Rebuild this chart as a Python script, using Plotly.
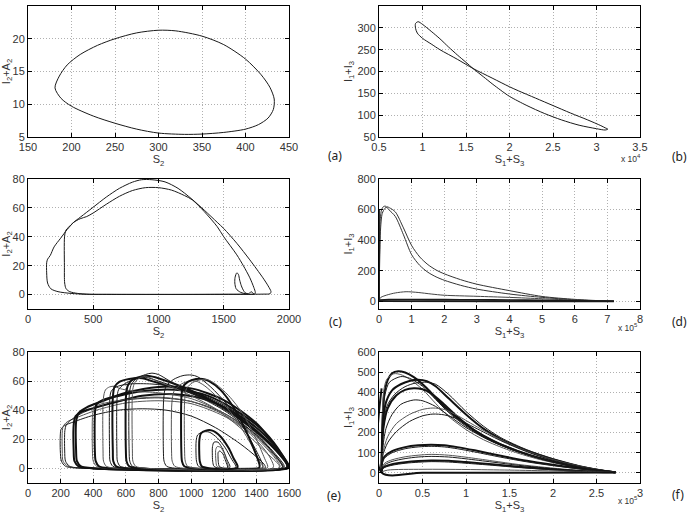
import plotly.graph_objects as go

# ---------------- data ----------------
# (a) S2 vs I2+A2, single limit cycle
a_x = [181, 186, 195, 210, 230, 250, 275, 300, 320, 350, 375, 400, 418, 428, 433, 432, 426, 415, 400, 375,
       350, 330, 300, 275, 250, 225, 200, 188, 181]
a_y = [12.5, 14.3, 16.0, 17.6, 19.0, 20.0, 20.9, 21.3, 21.2, 20.4, 19.1, 16.9, 14.5, 12.6, 10.8, 9.2, 7.9, 6.9,
       6.2, 5.7, 5.45, 5.4, 5.6, 6.2, 7.1, 8.2, 9.7, 10.9, 12.5]

# (b) S1+S3 (x 1e4) vs I1+I3
b_x = [0.92, 0.95, 1.0, 1.1, 1.2, 1.3, 1.4, 1.5, 1.58, 1.7, 1.8, 1.9, 2.0, 2.2, 2.4, 2.6, 2.8, 3.0, 3.1, 3.13,
       3.1, 3.05, 2.9, 2.7, 2.5, 2.3, 2.1, 2.0, 1.8, 1.58, 1.4, 1.2, 1.1, 1.0, 0.94, 0.92, 0.92]
b_y = [310, 314, 308, 292, 275, 256, 238, 221, 207, 188, 172, 157, 143, 122, 104, 89, 77, 69, 66, 68,
       71, 76, 89, 105, 122, 139, 156, 165, 185, 207, 228, 250, 263, 276, 288, 299, 310]

# (c) S2 vs I2+A2, period-2 type orbit
c_outer_x = [450, 330, 230, 175, 150, 143, 143, 150, 170, 200, 250, 300, 350, 400, 450, 500, 600, 700, 800, 870,
             950, 1050, 1150, 1250, 1350, 1450, 1500, 1600, 1700, 1800, 1840, 1862, 1855, 1800, 1500, 1200, 900,
             600, 450]
c_outer_y = [0.2, 0.8, 2.0, 4.0, 8, 15, 22, 24.5, 27, 33, 39, 45, 50, 53.5, 57, 60.5, 67.5, 73.5, 77.8, 79.5,
             79.5, 78, 73.5, 66.5, 58.5, 50, 45.7, 35.5, 24, 11.6, 6, 2, 0.6, 0.3, 0.2, 0.1, 0.1, 0.2, 0.2]
c_inner_x = [470, 380, 320, 292, 281, 279, 280, 290, 310, 350, 400, 450, 500, 600, 700, 800, 900, 1000, 1100,
             1200, 1260, 1350, 1450, 1500, 1600, 1650, 1700, 1730, 1742, 1738, 1650, 1400, 1000, 470]
c_inner_y = [0.2, 0.8, 2.0, 4.0, 8, 20, 40, 44.5, 46.5, 50, 52.5, 54, 56.5, 62.5, 68, 72, 74, 74, 72.3,
             68.5, 65.5, 57.5, 47, 40, 27.5, 20, 11.6, 5, 1.5, 0.4, 0.2, 0.1, 0.1, 0.2]
c_drop_x = [1680, 1630, 1595, 1585, 1587, 1600, 1612, 1622, 1635, 1650, 1665, 1690, 1710, 1730]
c_drop_y = [0.3, 1.5, 4, 8, 12, 15, 14, 10, 6, 3, 1.2, 0.5, 2, 0.4]

# (d) S1+S3 (x 1e5) vs I1+I3
d_big1_x = [0.0, 0.02, 0.05, 0.1, 0.18, 0.25, 0.32, 0.5, 0.75, 1.0, 1.25, 1.5, 1.75, 2.0, 2.5, 3.0, 4.0, 5.0, 6.0, 6.8, 7.2]
d_big1_y = [5, 250, 480, 575, 608, 618, 612, 585, 480, 365, 290, 240, 205, 180, 142, 112, 70, 32, 13, 4, 1]
d_big2_x = [0.0, 0.02, 0.04, 0.08, 0.14, 0.2, 0.3, 0.5, 0.75, 1.0, 1.25, 1.5, 1.75, 2.0, 2.5, 3.0, 4.0, 5.0, 6.0, 6.8, 7.2]
d_big2_y = [5, 350, 540, 600, 620, 622, 600, 555, 435, 305, 235, 190, 160, 138, 105, 80, 48, 26, 10, 3, 1]
d_hump_x = [0.0, 0.05, 0.15, 0.3, 0.5, 0.83, 1.2, 1.6, 2.0, 3.0, 4.0, 5.0, 6.0, 6.8, 7.2]
d_hump_y = [5, 25, 35, 45, 55, 63, 58, 48, 40, 33, 26, 17, 8, 3, 1]
d_flat_x = [0.0, 0.3, 1.0, 2.0, 3.0, 4.0, 5.0, 6.0, 7.2]
d_flat_y = [8, 11, 12, 11, 10, 9, 7, 4, 1]
d_base_x = [7.2, 4.0, 1.0, 0.0, 0.0]
d_base_y = [0.5, 0.5, 0.5, 1, 600]

# (e) S2 vs I2+A2, chaotic attractor: individual loops
e_loops = [
    ([320, 230, 205, 198, 198, 203, 225, 280, 400, 550, 700, 850, 1000, 1150, 1300, 1400, 1450, 1455, 1400, 320],
     [0.2, 1.5, 5, 12, 23, 27, 29.5, 32, 36.5, 40, 41, 40, 36, 28, 17, 8, 2.5, 0.5, 0.2, 0.2]),
    ([330, 245, 215, 210, 210, 216, 240, 300, 420, 600, 800, 1000, 1200, 1350, 1470, 1505, 1500, 330],
     [0.2, 1.5, 5, 12, 25, 29, 32, 35, 40, 45, 46.5, 44.5, 36, 25, 10, 2, 0.3, 0.2]),
    ([340, 255, 230, 225, 226, 235, 260, 330, 450, 600, 800, 1000, 1200, 1400, 1530, 1565, 1560, 340],
     [0.2, 1.5, 5, 12, 26, 30, 33, 38, 43, 47, 48.5, 46, 38, 23, 7, 1.5, 0.3, 0.2]),
    ([390, 310, 285, 280, 281, 292, 330, 420, 550, 700, 900, 1100, 1300, 1450, 1560, 1590, 1585, 390],
     [0.2, 1.5, 5, 12, 31, 36, 39, 42, 46, 50, 51, 47, 36, 23, 8, 2, 0.3, 0.2]),
    ([400, 325, 300, 295, 296, 310, 360, 450, 600, 800, 1000, 1200, 1400, 1540, 1595, 1600, 400],
     [0.2, 1.5, 5, 12, 33, 38, 42, 46, 52, 56, 55, 47, 31, 12, 3, 0.5, 0.2]),
    ([480, 420, 400, 395, 396, 405, 440, 520, 650, 800, 1000, 1200, 1380, 1500, 1545, 1540, 480],
     [0.2, 1.5, 5, 12, 37, 42, 44, 46, 48, 49, 46, 37, 23, 9, 2, 0.3, 0.2]),
    ([500, 435, 415, 410, 411, 420, 460, 560, 700, 900, 1100, 1300, 1450, 1560, 1592, 1588, 500],
     [0.2, 1.5, 5, 12, 39, 44, 47, 50, 53, 54, 50, 38, 25, 9, 2, 0.3, 0.2]),
    ([540, 480, 463, 460, 462, 475, 500, 530, 560, 650, 800, 1000, 1200, 1400, 1530, 1560, 1556, 540],
     [0.2, 1.5, 5, 12, 48, 54, 56, 56.5, 55, 53, 52, 48, 38, 22, 6, 1.5, 0.3, 0.2]),
    ([580, 520, 503, 500, 501, 510, 540, 620, 760, 900, 1100, 1300, 1460, 1570, 1598, 1595, 580],
     [0.2, 1.5, 5, 12, 47, 53, 56, 58, 58, 56, 49, 37, 22, 7, 1.5, 0.3, 0.2]),
    ([600, 540, 523, 520, 521, 530, 560, 620, 700, 760, 850, 1000, 1200, 1400, 1540, 1590, 1586, 600],
     [0.2, 1.5, 5, 12, 50, 56, 59.5, 61.5, 62, 60, 57, 52, 42, 26, 10, 2, 0.3, 0.2]),
    ([620, 565, 548, 545, 546, 555, 590, 650, 720, 800, 950, 1150, 1350, 1500, 1570, 1567, 620],
     [0.2, 1.5, 5, 12, 48, 54, 58, 61, 62.5, 60, 54, 44, 29, 12, 2, 0.3, 0.2]),
    ([680, 620, 604, 600, 601, 612, 640, 690, 740, 800, 900, 1050, 1250, 1450, 1570, 1597, 1593, 680],
     [0.2, 1.5, 5, 12, 50, 57, 61, 63, 63.5, 62, 58, 51, 38, 20, 6, 1.5, 0.3, 0.2]),
    ([700, 640, 624, 620, 622, 635, 670, 720, 760, 800, 870, 1000, 1200, 1400, 1530, 1560, 1556, 700],
     [0.2, 1.5, 5, 12, 52, 58, 62, 64.5, 65.5, 64.5, 60, 52, 40, 23, 7, 1.5, 0.3, 0.2]),
    ([720, 660, 643, 640, 642, 655, 690, 730, 790, 880, 1000, 1150, 1300, 1450, 1540, 1537, 720],
     [0.2, 1.5, 5, 12, 54, 59, 62.5, 63, 60, 56, 50, 41, 28, 12, 2, 0.3, 0.2]),
    ([900, 850, 834, 830, 832, 845, 890, 950, 1000, 1040, 1120, 1220, 1320, 1400, 1440, 1436, 900],
     [0.2, 1.5, 5, 12, 48, 56, 61, 63.8, 64.2, 63, 56, 44, 28, 12, 2, 0.3, 0.2]),
    ([950, 900, 884, 880, 882, 895, 940, 990, 1030, 1080, 1160, 1260, 1360, 1420, 1440, 950],
     [0.2, 1.5, 5, 12, 45, 53, 58, 60, 60, 57, 49, 36, 18, 5, 0.5, 0.2]),
    ([1010, 958, 944, 940, 941, 950, 980, 1030, 1070, 1110, 1180, 1260, 1340, 1400, 1420, 1416, 1010],
     [0.2, 1.5, 5, 12, 50, 56, 59.5, 61.5, 61.5, 60, 54, 42, 25, 9, 2, 0.3, 0.2]),
    ([1030, 978, 964, 960, 961, 972, 1010, 1060, 1100, 1150, 1230, 1320, 1400, 1450, 1470, 1466, 1030],
     [0.2, 1.5, 5, 12, 48, 55, 59, 61, 61, 58, 50, 37, 20, 7, 1.5, 0.3, 0.2]),
    ([1090, 1045, 1033, 1030, 1031, 1040, 1070, 1110, 1160, 1210, 1250, 1275, 1272, 1090],
     [0.2, 1.5, 5, 10, 19, 23, 25, 25, 21, 14, 6, 1.5, 0.3, 0.2]),
    ([1110, 1065, 1053, 1050, 1051, 1060, 1090, 1130, 1180, 1230, 1260, 1285, 1282, 1110],
     [0.2, 1.5, 5, 10, 20, 24, 26, 26, 22, 14, 7, 1.5, 0.3, 0.2]),
    ([1170, 1140, 1132, 1130, 1131, 1140, 1165, 1195, 1220, 1238, 1235, 1170],
     [0.2, 1.5, 5, 10, 15, 18, 18, 13, 6, 1.5, 0.3, 0.2]),
    ([1185, 1158, 1152, 1150, 1151, 1160, 1180, 1205, 1222, 1228, 1225, 1185],
     [0.2, 1.5, 5, 9, 13, 15, 14.5, 10, 4, 1, 0.3, 0.2]),
    ([1195, 1172, 1167, 1165, 1166, 1175, 1195, 1212, 1224, 1222, 1195],
     [0.2, 1.5, 4, 8, 11, 12, 10, 5, 1, 0.3, 0.2]),
]
e_thick = [3, 4, 6, 9, 11, 16, 19]

# (f) S1+S3 (x 1e5) vs I1+I3, chaotic attractor: individual arcs
f_arcs = [
    ([0.03, 0.033, 0.04, 0.06, 0.1, 0.15, 0.22, 0.3, 0.4, 0.55, 0.7, 0.85, 1.0, 1.2, 1.4, 1.6, 1.8, 2.0, 2.2, 2.4, 2.6, 2.72],
     [5, 120, 260, 390, 460, 495, 505, 498, 475, 420, 350, 290, 240, 185, 142, 107, 78, 55, 36, 20, 8, 3]),
    ([0.03, 0.033, 0.04, 0.055, 0.09, 0.17, 0.25, 0.35, 0.5, 0.65, 0.8, 1.0, 1.2, 1.5, 1.8, 2.1, 2.4, 2.72],
     [5, 150, 300, 410, 465, 492, 488, 465, 415, 345, 280, 215, 165, 112, 72, 42, 18, 3]),
    ([0.03, 0.034, 0.045, 0.07, 0.12, 0.25, 0.35, 0.5, 0.65, 0.8, 1.0, 1.2, 1.5, 1.8, 2.1, 2.4, 2.72],
     [5, 130, 280, 390, 450, 478, 470, 430, 365, 300, 232, 178, 120, 78, 45, 19, 3]),
    ([0.03, 0.035, 0.05, 0.08, 0.15, 0.25, 0.35, 0.45, 0.55, 0.65, 0.8, 1.0, 1.2, 1.4, 1.6, 1.8, 2.0, 2.2, 2.4, 2.6, 2.72],
     [5, 140, 270, 350, 410, 440, 456, 462, 455, 430, 370, 290, 220, 168, 128, 95, 68, 45, 25, 10, 3]),
    ([0.03, 0.035, 0.05, 0.09, 0.18, 0.3, 0.42, 0.55, 0.65, 0.8, 1.0, 1.2, 1.4, 1.7, 2.0, 2.3, 2.72],
     [5, 120, 240, 330, 390, 428, 446, 450, 440, 390, 305, 232, 175, 115, 70, 35, 3]),
    ([0.03, 0.035, 0.05, 0.1, 0.2, 0.3, 0.4, 0.5, 0.6, 0.75, 0.9, 1.1, 1.3, 1.6, 1.9, 2.2, 2.5, 2.72],
     [5, 110, 220, 320, 385, 412, 420, 415, 395, 340, 280, 210, 160, 108, 68, 38, 15, 3]),
    ([0.03, 0.04, 0.08, 0.15, 0.25, 0.4, 0.5, 0.65, 0.8, 1.0, 1.3, 1.6, 2.0, 2.4, 2.72],
     [5, 110, 220, 290, 340, 362, 358, 330, 285, 225, 155, 105, 55, 20, 3]),
    ([0.03, 0.04, 0.1, 0.2, 0.35, 0.5, 0.62, 0.75, 0.9, 1.1, 1.4, 1.7, 2.0, 2.4, 2.72],
     [5, 90, 180, 245, 290, 315, 322, 315, 285, 235, 165, 108, 65, 25, 3]),
    ([0.03, 0.04, 0.1, 0.2, 0.35, 0.5, 0.62, 0.75, 0.9, 1.1, 1.4, 1.7, 2.0, 2.4, 2.72],
     [5, 80, 150, 205, 255, 283, 292, 288, 268, 225, 160, 105, 62, 24, 3]),
    ([0.03, 0.035, 0.06, 0.15, 0.3, 0.45, 0.6, 0.75, 0.9, 1.1, 1.4, 1.7, 2.0, 2.3, 2.6, 2.72],
     [5, 50, 80, 108, 128, 137, 140, 137, 128, 112, 85, 60, 40, 22, 8, 3]),
    ([0.03, 0.035, 0.06, 0.15, 0.3, 0.45, 0.6, 0.75, 0.9, 1.1, 1.4, 1.7, 2.0, 2.3, 2.6, 2.72],
     [5, 45, 72, 100, 120, 129, 132, 129, 120, 104, 78, 55, 36, 20, 7, 3]),
    ([0.03, 0.035, 0.07, 0.15, 0.3, 0.45, 0.6, 0.8, 1.0, 1.3, 1.6, 1.9, 2.2, 2.5, 2.72],
     [5, 30, 50, 65, 80, 88, 92, 88, 78, 60, 42, 28, 16, 7, 3]),
    ([0.03, 0.035, 0.07, 0.15, 0.3, 0.45, 0.6, 0.8, 1.0, 1.3, 1.6, 1.9, 2.2, 2.5, 2.72],
     [5, 25, 42, 57, 71, 79, 82, 79, 70, 54, 38, 25, 14, 6, 3]),
    ([0.03, 0.035, 0.07, 0.15, 0.3, 0.45, 0.6, 0.8, 1.0, 1.3, 1.6, 1.9, 2.2, 2.5, 2.72],
     [5, 20, 32, 43, 53, 59, 62, 60, 54, 43, 31, 21, 12, 5, 3]),
    ([0.03, 0.035, 0.07, 0.15, 0.3, 0.45, 0.6, 0.8, 1.0, 1.3, 1.6, 1.9, 2.2, 2.5, 2.72],
     [5, 17, 28, 38, 48, 53, 56, 54, 48, 38, 27, 18, 10, 5, 3]),
    ([0.03, 0.1, 0.5, 1.0, 1.5, 2.0, 2.5, 2.72],
     [5, 14, 18, 17, 14, 10, 6, 3]),
    ([2.72, 1.5, 0.5, 0.03, 0.03],
     [2, 1, 1, 2, 420]),
]
f_thick = [0, 3, 5, 9, 13, 16]

LINE = "#1a1a1a"
GRAY = "#555555"

LEFT = [28 / 689, 289 / 689]
RIGHT = [379 / 689, 640 / 689]
ROW1 = [1 - 137 / 514, 1 - 6 / 514]
ROW2 = [1 - 309 / 514, 1 - 179 / 514]
ROW3 = [1 - 483 / 514, 1 - 352 / 514]
S2 = "S<sub>2</sub>"
S13 = "S<sub>1</sub>+S<sub>3</sub>"
IA2 = "I<sub>2</sub>+A<sub>2</sub>"
I13 = "I<sub>1</sub>+I<sub>3</sub>"
# panel: (axis suffix, x domain, y domain, x range, y range, x dtick, y dtick, x title, y title)
panels = [
    ("", LEFT, ROW1, [150, 450], [5, 25], 50, 5, S2, IA2),
    ("2", RIGHT, ROW1, [0.5, 3.5], [50, 350], 0.5, 50, S13, I13),
    ("3", LEFT, ROW2, [0, 2000], [-10, 80], 500, 20, S2, IA2),
    ("4", RIGHT, ROW2, [0, 8], [-50, 800], 1, 200, S13, I13),
    ("5", LEFT, ROW3, [0, 1600], [-10, 80], 200, 20, S2, IA2),
    ("6", RIGHT, ROW3, [0, 3], [-50, 600], 0.5, 100, S13, I13),
]

fig = go.Figure()


def add_line(xs, ys, ax, width=1.0, color=LINE, spline=True):
    fig.add_trace(go.Scatter(
        x=xs, y=ys, mode="lines", xaxis="x" + ax, yaxis="y" + ax,
        line=dict(color=color, width=width, shape="spline" if spline else "linear", smoothing=0.8),
        hoverinfo="skip", showlegend=False,
    ))


# --- (a) ---
add_line(a_x, a_y, "")
# --- (b) ---
add_line(b_x, b_y, "2")
# --- (c) ---
add_line(c_outer_x, c_outer_y, "3")
add_line(c_inner_x, c_inner_y, "3")
add_line(c_drop_x, c_drop_y, "3")
# --- (d) ---
add_line(d_big1_x, d_big1_y, "4", color="#333")
add_line(d_big2_x, d_big2_y, "4", color="#333")
add_line(d_hump_x, d_hump_y, "4", color="#444")
add_line(d_flat_x, d_flat_y, "4", width=1.6)
add_line(d_base_x, d_base_y, "4", width=1.8, spline=False)
# --- (e) ---
for i, (xs, ys) in enumerate(e_loops):
    if i in e_thick:
        add_line(xs, ys, "5", width=2.0, color="#111")
    else:
        add_line(xs, ys, "5", width=1.0, color=GRAY if i % 2 else LINE)
# --- (f) ---
for i, (xs, ys) in enumerate(f_arcs):
    if i in f_thick:
        add_line(xs, ys, "6", width=2.0, color="#111")
    else:
        add_line(xs, ys, "6", width=1.0, color=GRAY if i % 2 else LINE)

tick_font = dict(family="Liberation Sans, Arial, sans-serif", size=11, color="#333")
title_font = dict(family="Liberation Sans, Arial", size=11, color="#333")
layout = {}
for suffix, xd, yd, xr, yr, dx, dy, xt, yt in panels:
    common = dict(
        showline=True, linecolor="black", linewidth=1, mirror="allticks",
        ticks="inside", ticklen=4, tickcolor="black", tickfont=tick_font,
        showgrid=True, gridcolor="#b0b0b0", griddash="1px,2px", gridwidth=1, zeroline=False,
    )
    layout["xaxis" + suffix] = dict(domain=xd, range=xr, dtick=dx, tick0=0, anchor="y" + suffix,
                                    title=dict(text=xt, font=title_font, standoff=0), **common)
    layout["yaxis" + suffix] = dict(domain=yd, range=yr, dtick=dy, tick0=0, anchor="x" + suffix,
                                    title=dict(text=yt, font=title_font, standoff=2), **common)

annotations = []
for txt, px, py in [("(a)", 335, 155), ("(b)", 679, 156), ("(c)", 335, 321),
                    ("(d)", 679, 321), ("(e)", 334, 495), ("(f)", 678, 494)]:
    annotations.append(dict(text=txt, x=px / 689, y=1 - py / 514, xref="paper", yref="paper",
                            showarrow=False, xanchor="center", yanchor="middle",
                            font=dict(family="Noto Sans, Open Sans, sans-serif", size=12, color="#222")))
# axis multipliers sit below the right end of the x axes
for txt, px, py in [("x 10<sup>4</sup>", 631, 158), ("x 10<sup>5</sup>", 628, 327), ("x 10<sup>5</sup>", 628, 500)]:
    annotations.append(dict(text=txt, x=px / 689, y=1 - py / 514, xref="paper", yref="paper",
                            showarrow=False, xanchor="center", yanchor="middle",
                            font=dict(family="Liberation Sans, Arial", size=8.5, color="#333")))

fig.update_layout(
    **layout,
    annotations=annotations,
    template="none",
    width=689, height=514,
    paper_bgcolor="white", plot_bgcolor="white",
    margin=dict(l=0, r=0, t=0, b=0),
    showlegend=False,
)

# drop the browser's default body margin so the 689x514 figure fills the window
fig.write_html("out.html", config={"displayModeBar": False},
               post_script="document.body.style.margin='0';")
